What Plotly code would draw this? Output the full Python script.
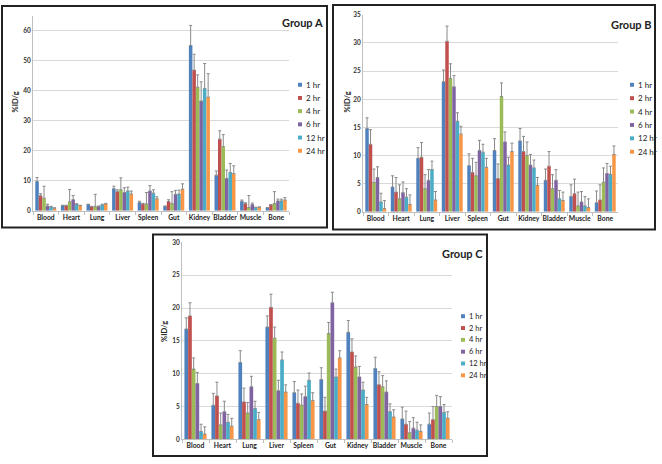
import plotly.graph_objects as go

W, H = 662, 464

organs = ["Blood", "Heart", "Lung", "Liver", "Spleen", "Gut", "Kidney", "Bladder", "Muscle", "Bone"]
times = ["1 hr", "2 hr", "4 hr", "6 hr", "12 hr", "24 hr"]
colors = ["#4F81BD", "#C0504D", "#9BBB59", "#8064A2", "#4BACC6", "#F79646"]

# Group A (%ID/g) per time point
a_1hr = [9.8, 1.75, 2.1, 7.4, 2.8, 1.5, 55.1, 11.9, 3.2, 1.0]
a_2hr = [5.0, 1.75, 1.4, 6.4, 2.3, 3.1, 46.9, 23.9, 2.4, 2.0]
a_4hr = [4.2, 3.0, 1.4, 7.0, 2.3, 2.4, 41.2, 21.4, 1.1, 2.4]
a_6hr = [1.6, 3.7, 1.5, 6.1, 6.6, 5.5, 36.6, 10.8, 2.1, 3.3]
a_12hr = [1.3, 2.1, 2.0, 6.6, 5.9, 5.6, 40.8, 12.8, 1.1, 3.3]
a_24hr = [0.9, 1.75, 2.3, 5.6, 4.0, 7.2, 37.9, 12.4, 1.2, 3.6]
a_err_1hr = [1.3, 0.1, 0.1, 0.8, 0.4, 0.1, 6.7, 1.4, 0.4, 0.1]
a_err_2hr = [0.7, 0.1, 0.1, 0.6, 0.2, 0.6, 5.3, 2.8, 0.3, 0.1]
a_err_4hr = [4.0, 4.1, 4.1, 4.0, 3.8, 4.0, 4.1, 4.0, 4.0, 4.0]
a_err_6hr = [0.6, 1.4, 0.1, 1.6, 1.8, 1.3, 6.4, 2.8, 0.5, 0.6]
a_err_12hr = [0.2, 0.3, 0.2, 1.3, 1.1, 1.3, 8.3, 3.0, 0.1, 0.6]
a_err_24hr = [0.1, 0.1, 0.2, 1.0, 0.7, 1.8, 7.8, 2.6, 0.1, 0.8]

# Group B
b_1hr = [14.8, 4.4, 9.5, 23.1, 8.2, 10.9, 12.6, 5.6, 2.7, 1.6]
b_2hr = [12.0, 3.5, 9.7, 30.3, 7.0, 5.9, 10.7, 8.1, 3.2, 2.1]
b_4hr = [5.2, 2.3, 4.1, 23.7, 6.4, 20.5, 10.0, 4.1, 1.05, 5.25]
b_6hr = [6.1, 3.4, 5.6, 22.2, 10.9, 12.4, 8.3, 5.6, 1.75, 6.8]
b_12hr = [1.75, 2.6, 7.5, 16.1, 10.6, 8.3, 7.8, 2.3, 1.05, 6.65]
b_24hr = [0.6, 1.3, 2.1, 13.8, 7.9, 10.7, 4.7, 2.0, 0.75, 10.2]
b_err_1hr = [1.9, 2.0, 1.9, 2.1, 2.1, 2.1, 2.2, 2.0, 2.1, 2.1]
b_err_2hr = [2.6, 2.6, 2.6, 2.7, 2.5, 2.6, 2.7, 2.6, 2.6, 2.7]
b_err_4hr = [2.4, 2.5, 2.5, 2.6, 2.4, 2.4, 2.4, 2.5, 2.45, 2.55]
b_err_6hr = [1.9, 1.9, 1.9, 2.0, 1.8, 1.8, 1.9, 1.9, 1.85, 1.8]
b_err_12hr = [1.55, 1.5, 1.5, 1.5, 1.4, 1.4, 1.4, 1.5, 1.65, 1.45]
b_err_24hr = [1.4, 1.7, 1.5, 1.4, 1.6, 1.5, 1.4, 1.5, 1.55, 1.5]

# Group C
c_1hr = [16.8, 5.2, 11.7, 17.1, 7.1, 9.1, 16.3, 10.8, 3.1, 2.3]
c_2hr = [18.8, 6.6, 5.7, 20.1, 5.5, 4.3, 13.3, 8.3, 2.3, 3.0]
c_4hr = [10.7, 2.2, 4.0, 15.4, 5.2, 16.1, 11.0, 8.0, 1.0, 5.0]
c_6hr = [8.5, 4.2, 8.0, 7.4, 6.5, 20.8, 9.5, 7.2, 1.7, 5.0]
c_12hr = [1.2, 2.6, 4.7, 12.1, 9.0, 9.5, 7.5, 4.2, 1.4, 4.1]
c_24hr = [0.8, 2.0, 3.0, 7.2, 5.9, 12.4, 5.3, 3.4, 1.2, 3.2]
c_err_1hr = [1.7, 1.8, 1.8, 1.7, 1.7, 1.8, 1.8, 1.7, 1.8, 1.7]
c_err_2hr = [2.0, 2.1, 2.1, 2.0, 2.0, 2.1, 2.0, 2.0, 2.0, 2.0]
c_err_4hr = [1.7, 1.8, 1.6, 1.7, 1.7, 1.7, 1.7, 1.7, 1.7, 1.7]
c_err_6hr = [1.7, 1.6, 1.6, 1.6, 1.6, 1.6, 1.6, 1.7, 1.6, 1.5]
c_err_12hr = [1.1, 1.2, 1.1, 1.2, 1.1, 1.2, 1.2, 1.2, 1.2, 1.2]
c_err_24hr = [1.1, 1.2, 1.1, 1.1, 1.2, 1.1, 1.1, 1.1, 1.0, 1.0]

y_ticks_a = [0, 10, 20, 30, 40, 50, 60]
y_ticks_b = [0, 5, 10, 15, 20, 25, 30, 35]
y_ticks_c = [0, 5, 10, 15, 20, 25, 30]

groups = [
    dict(name="Group A", vals=[a_1hr, a_2hr, a_4hr, a_6hr, a_12hr, a_24hr],
         errs=[a_err_1hr, a_err_2hr, a_err_4hr, a_err_6hr, a_err_12hr, a_err_24hr],
         ticks=y_ticks_a, ymax=65,
         plot=(33, 289, 12, 210), box=(2, 327, 2, 227),
         title_right=325, title_y=19, ytitle=(15, 100),
         leg=(300, 82, 13.4), legfont=8),
    dict(name="Group B", vals=[b_1hr, b_2hr, b_4hr, b_6hr, b_12hr, b_24hr],
         errs=[b_err_1hr, b_err_2hr, b_err_4hr, b_err_6hr, b_err_12hr, b_err_24hr],
         ticks=y_ticks_b, ymax=35,
         plot=(363, 618, 11, 211), box=(333, 655, 1, 229),
         title_right=654, title_y=21, ytitle=(347, 100),
         leg=(632, 82, 13.6), legfont=8),
    dict(name="Group C", vals=[c_1hr, c_2hr, c_4hr, c_6hr, c_12hr, c_24hr],
         errs=[c_err_1hr, c_err_2hr, c_err_4hr, c_err_6hr, c_err_12hr, c_err_24hr],
         ticks=y_ticks_c, ymax=30,
         plot=(182, 452, 242, 442), box=(153, 487, 234, 459),
         title_right=485, title_y=253, ytitle=(165, 333),
         leg=(463, 317, 12.0), legfont=7.5),
]


def px(x):
    return x / W


def py(y):
    return 1 - y / H


FONT = "Lato, 'Open Sans', sans-serif"
fig = go.Figure()
shapes = []
annotations = []

for gi, g in enumerate(groups):
    suffix = "" if gi == 0 else str(gi + 1)
    xa, ya = "x" + suffix, "y" + suffix
    for ti, t in enumerate(times):
        fig.add_trace(go.Bar(
            x=organs, y=g["vals"][ti], name=t, xaxis=xa, yaxis=ya,
            marker=dict(color=colors[ti], line=dict(width=0)),
            error_y=dict(type="data", array=g["errs"][ti], arrayminus=[0] * len(organs),
                         symmetric=False, color="#8a8a8a", thickness=1, width=1.5),
            showlegend=False,
        ))
    x0, x1, y0, y1 = g["plot"]
    fig.update_layout(**{
        "xaxis" + suffix: dict(
            domain=[px(x0), px(x1)], anchor=ya, showline=True, linecolor="#BFBFBF",
            linewidth=1, ticks="outside", tickson="boundaries", ticklen=3, tickangle=0,
            tickcolor="#BFBFBF", tickfont=dict(family=FONT, size=6.8, color="#222", weight="bold"),
            fixedrange=True),
        "yaxis" + suffix: dict(
            domain=[py(y1), py(y0)], anchor=xa, range=[0, g["ymax"]], tickvals=g["ticks"],
            showline=True, linecolor="#BFBFBF", linewidth=1, showgrid=True,
            gridcolor="#D9D9D9", gridwidth=1, zeroline=False, ticks="",
            tickfont=dict(family=FONT, size=6.5, color="#333", weight="bold"), fixedrange=True),
    })
    bx0, bx1, by0, by1 = g["box"]
    shapes.append(dict(type="rect", xref="paper", yref="paper",
                       x0=px(bx0), x1=px(bx1), y0=py(by1), y1=py(by0),
                       line=dict(color="#222", width=2), fillcolor="rgba(0,0,0,0)"))
    annotations.append(dict(text=g["name"], xref="paper", yref="paper", x=px(g["title_right"]),
                            y=py(g["title_y"]), xanchor="right", yanchor="middle", showarrow=False,
                            font=dict(family=FONT, size=11, color="#222", weight="bold")))
    tx, ty = g["ytitle"]
    annotations.append(dict(text="%ID/g", xref="paper", yref="paper", x=px(tx), y=py(ty),
                            xanchor="center", yanchor="middle", textangle=-90, showarrow=False,
                            font=dict(family=FONT, size=7.5, color="#222", weight="bold")))
    lx, ly, ls = g["leg"]
    for ti, t in enumerate(times):
        cy = ly + ti * ls
        shapes.append(dict(type="rect", xref="paper", yref="paper",
                           x0=px(lx - 2), x1=px(lx + 2), y0=py(cy + 2), y1=py(cy - 2),
                           line=dict(width=0), fillcolor=colors[ti]))
        annotations.append(dict(text=t, xref="paper", yref="paper", x=px(lx + 4), y=py(cy),
                                xanchor="left", yanchor="middle", showarrow=False,
                                font=dict(family=FONT, size=g["legfont"], color="#222")))

fig.update_layout(
    width=W, height=H, margin=dict(l=0, r=0, t=0, b=0),
    paper_bgcolor="white", plot_bgcolor="white",
    barmode="group", bargap=0.18, bargroupgap=0,
    shapes=shapes, annotations=annotations, showlegend=False,
)

fig.write_html("out.html", config={"displayModeBar": False},
               post_script="document.body.style.margin='0px';document.body.style.overflow='hidden';")
